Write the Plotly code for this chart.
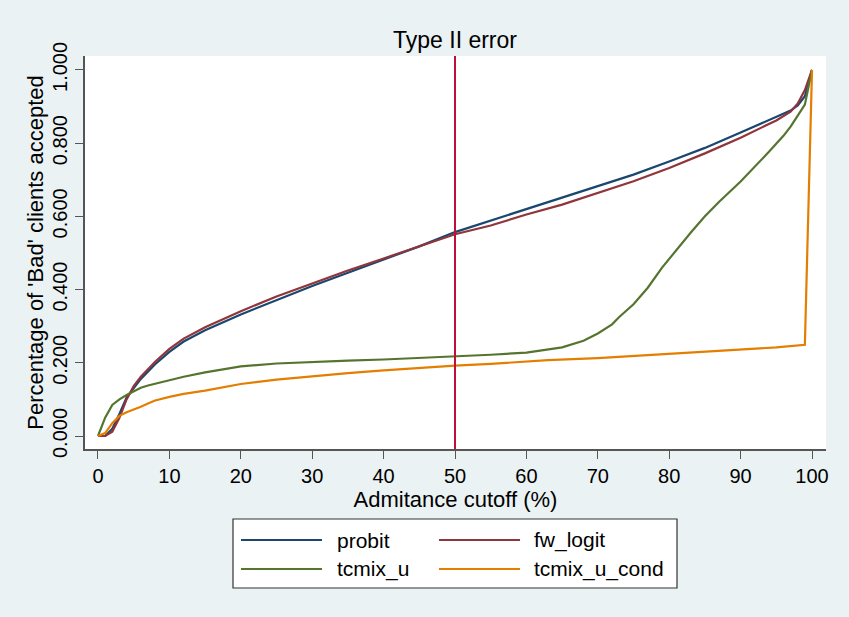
import plotly.graph_objects as go

# ---------------- data ----------------
probit_x = [0, 1, 2, 3, 4, 5, 6, 8, 10, 12, 15, 20, 25, 30, 35, 40, 45, 50, 55, 60, 65, 70, 75, 80, 85, 90, 95, 97, 98, 99, 100]
probit_y = [0.000, 0.000, 0.020, 0.060, 0.105, 0.132, 0.156, 0.196, 0.230, 0.258, 0.289, 0.332, 0.372, 0.410, 0.446, 0.482, 0.518, 0.557, 0.588, 0.620, 0.650, 0.681, 0.714, 0.750, 0.787, 0.829, 0.872, 0.889, 0.903, 0.928, 1.000]

fwlogit_x = [0, 1, 2, 3, 4, 5, 6, 8, 10, 12, 15, 20, 25, 30, 35, 40, 45, 50, 55, 60, 65, 70, 75, 80, 85, 90, 95, 97, 98, 99, 100]
fwlogit_y = [0.000, 0.000, 0.012, 0.050, 0.100, 0.136, 0.162, 0.203, 0.238, 0.266, 0.297, 0.341, 0.381, 0.417, 0.452, 0.485, 0.519, 0.551, 0.575, 0.605, 0.632, 0.663, 0.696, 0.732, 0.772, 0.815, 0.862, 0.886, 0.908, 0.945, 1.000]

tcmixu_x = [0, 1, 2, 3, 4, 5, 6, 7, 8, 10, 12, 15, 20, 25, 30, 35, 40, 45, 50, 55, 60, 63, 65, 68, 70, 72, 73, 75, 77, 79, 81, 83, 85, 87, 90, 92, 94, 96, 97, 98, 99, 100]
tcmixu_y = [0.000, 0.050, 0.085, 0.100, 0.112, 0.123, 0.132, 0.138, 0.143, 0.152, 0.162, 0.174, 0.190, 0.198, 0.203, 0.206, 0.209, 0.213, 0.218, 0.222, 0.228, 0.236, 0.242, 0.260, 0.280, 0.305, 0.325, 0.360, 0.405, 0.460, 0.508, 0.555, 0.600, 0.640, 0.695, 0.735, 0.777, 0.820, 0.845, 0.875, 0.905, 1.000]

tcmixucond_x = [0, 1, 2, 3, 4, 5, 6, 7, 8, 10, 12, 15, 20, 25, 30, 35, 40, 45, 50, 55, 60, 63, 70, 80, 90, 95, 99, 100]
tcmixucond_y = [0.000, 0.008, 0.035, 0.055, 0.065, 0.072, 0.080, 0.089, 0.097, 0.107, 0.115, 0.124, 0.142, 0.154, 0.164, 0.172, 0.179, 0.186, 0.192, 0.197, 0.203, 0.207, 0.213, 0.224, 0.236, 0.242, 0.249, 1.000]

series_names = ["probit", "fw_logit", "tcmix_u", "tcmix_u_cond"]
series_colors = ["#1a476f", "#90353b", "#55752f", "#e37e00"]
cutoff_line = 50

x_ticks = [0, 10, 20, 30, 40, 50, 60, 70, 80, 90, 100]
y_ticks = [0.0, 0.2, 0.4, 0.6, 0.8, 1.0]
y_ticklabels = ["0.000", "0.200", "0.400", "0.600", "0.800", "1.000"]

# ---------------- figure ----------------
FONT = "Liberation Sans, Arial, sans-serif"
fig = go.Figure()
xs = [probit_x, fwlogit_x, tcmixu_x, tcmixucond_x]
ys = [probit_y, fwlogit_y, tcmixu_y, tcmixucond_y]
for name, col, x, y in zip(series_names, series_colors, xs, ys):
    fig.add_trace(go.Scatter(x=x, y=y, mode="lines", name=name,
                             line=dict(color=col, width=2.2), showlegend=False))

# vertical reference line
fig.add_shape(type="line", xref="x", yref="paper", x0=cutoff_line, x1=cutoff_line,
              y0=0, y1=1, line=dict(color="#c0103a", width=2), layer="above")

W, H = 849, 617
L, R, T, B = 85, 23, 56, 168

# manual legend (box + samples + labels), in paper coordinates
def px2paper_x(px):
    return (px - L) / (W - L - R)

def px2paper_y(py):
    return (H - B - py) / (H - T - B)

fig.add_shape(type="rect", xref="paper", yref="paper",
              x0=px2paper_x(233), x1=px2paper_x(677), y0=px2paper_y(519), y1=px2paper_y(588),
              line=dict(color="#333333", width=1.2), fillcolor="white", layer="below")
leg_pos = [(241, 322, 335, 540), (439, 520, 532, 540), (241, 322, 335, 569), (439, 520, 532, 569)]
for (lx0, lx1, tx, ly), name, col in zip(leg_pos, series_names, series_colors):
    fig.add_shape(type="line", xref="paper", yref="paper",
                  x0=px2paper_x(lx0), x1=px2paper_x(lx1), y0=px2paper_y(ly), y1=px2paper_y(ly),
                  line=dict(color=col, width=2.2))
    fig.add_annotation(xref="paper", yref="paper", x=px2paper_x(tx), y=px2paper_y(ly),
                       text=name, showarrow=False, xanchor="left", yanchor="middle",
                       font=dict(family=FONT, size=21, color="black"))

fig.update_layout(
    width=W, height=H,
    margin=dict(l=L, r=R, t=T, b=B),
    paper_bgcolor="#eaf2f3",
    plot_bgcolor="white",
    showlegend=False,
    font=dict(family=FONT, size=20, color="black"),
    title=dict(text="Type II error", x=455 / W, xanchor="center",
               y=1 - 40 / H, yanchor="middle", font=dict(family=FONT, size=23, color="black")),
    xaxis=dict(range=[-1.82, 101.96], tickvals=x_ticks, ticks="outside", ticklen=8,
               tickcolor="#555555", tickwidth=1.3, showline=True, linecolor="#555555",
               linewidth=1.5, showgrid=False, zeroline=False,
               tickfont=dict(family=FONT, size=20),
               title=dict(text="Admitance cutoff (%)", font=dict(family=FONT, size=22), standoff=1)),
    yaxis=dict(range=[-0.0355, 1.038], tickvals=y_ticks, ticktext=y_ticklabels,
               ticks="outside", ticklen=8, tickangle=-90,
               tickcolor="#555555", tickwidth=1.3, showline=True, linecolor="#555555",
               linewidth=1.5, showgrid=False, zeroline=False,
               tickfont=dict(family=FONT, size=20),
               title=dict(text="Percentage of 'Bad' clients accepted",
                          font=dict(family=FONT, size=22), standoff=0)),
)

fig.write_html("out.html")
